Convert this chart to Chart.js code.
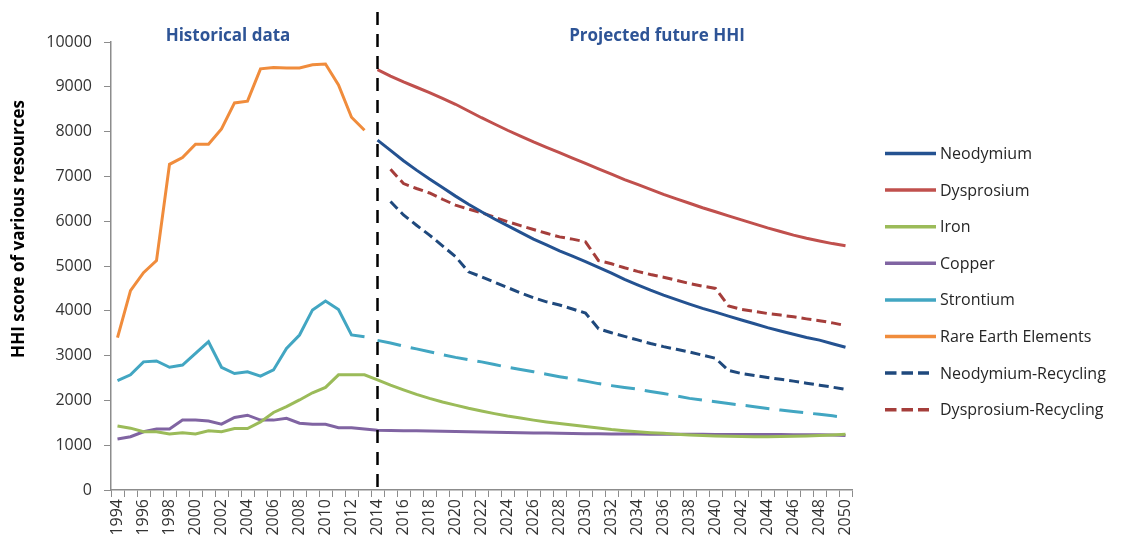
<!DOCTYPE html>
<html>
<head>
<meta charset="utf-8">
<script src="https://cdn.jsdelivr.net/npm/chart.js@4.4.1/dist/chart.umd.min.js"></script>
<style>
  body { margin: 0; background: #fff; }
</style>
</head>
<body>
<canvas id="hhiChart" width="1123" height="544"></canvas>
<script>
const years = ['1994', '1995', '1996', '1997', '1998', '1999', '2000', '2001', '2002', '2003',
  '2004', '2005', '2006', '2007', '2008', '2009', '2010', '2011', '2012', '2013',
  '2014', '2015', '2016', '2017', '2018', '2019', '2020', '2021', '2022', '2023',
  '2024', '2025', '2026', '2027', '2028', '2029', '2030', '2031', '2032', '2033',
  '2034', '2035', '2036', '2037', '2038', '2039', '2040', '2041', '2042', '2043',
  '2044', '2045', '2046', '2047', '2048', '2049', '2050'];

// historical values, 1994 - 2013
const rareEarthHist = [3400, 4450, 4850, 5120, 7270, 7420, 7720, 7720, 8060, 8640, 8680, 9400, 9430, 9420, 9420, 9490, 9510, 9040, 8320, 8030];
const strontiumHist = [2440, 2570, 2860, 2880, 2740, 2790, 3050, 3310, 2740, 2600, 2640, 2540, 2680, 3160, 3460, 4020, 4220, 4030, 3460, 3420];
const ironHist = [1430, 1380, 1300, 1300, 1250, 1280, 1250, 1320, 1300, 1370, 1370, 1520, 1730, 1860, 2010, 2170, 2290, 2570, 2570, 2570];
const copperHist = [1140, 1190, 1300, 1360, 1360, 1560, 1560, 1540, 1470, 1620, 1670, 1560, 1560, 1600, 1490, 1465, 1465, 1390, 1390, 1360];

// projections, 2014 - 2050
const neodymiumProj = [7810, 7580, 7350, 7140, 6940, 6750, 6560, 6380, 6210, 6050, 5900, 5750, 5600, 5470, 5340, 5220, 5100, 4970, 4840, 4700, 4580, 4460, 4350, 4250, 4150, 4055, 3970, 3880, 3795, 3710, 3625, 3550, 3475, 3405, 3345, 3265, 3185];
const dysprosiumProj = [9385, 9240, 9110, 8990, 8870, 8740, 8610, 8460, 8310, 8170, 8030, 7900, 7770, 7650, 7530, 7410, 7290, 7170, 7050, 6930, 6820, 6710, 6600, 6500, 6400, 6300, 6210, 6120, 6030, 5940, 5850, 5770, 5690, 5620, 5560, 5500, 5450];
const ironProj = [2460, 2340, 2235, 2135, 2045, 1965, 1895, 1825, 1765, 1705, 1650, 1605, 1560, 1520, 1485, 1450, 1415, 1385, 1350, 1325, 1300, 1280, 1265, 1245, 1230, 1215, 1205, 1198, 1192, 1190, 1190, 1192, 1198, 1205, 1215, 1230, 1245];
const copperProj = [1335, 1330, 1325, 1320, 1315, 1310, 1305, 1300, 1295, 1290, 1285, 1280, 1275, 1270, 1265, 1262, 1258, 1255, 1252, 1250, 1248, 1246, 1245, 1244, 1243, 1242, 1241, 1240, 1240, 1239, 1238, 1237, 1236, 1235, 1233, 1228, 1215];
const strontiumProj = [3340, 3280, 3210, 3150, 3085, 3020, 2960, 2910, 2860, 2800, 2740, 2690, 2640, 2585, 2530, 2480, 2430, 2375, 2330, 2290, 2250, 2200, 2155, 2100, 2045, 2005, 1970, 1930, 1895, 1860, 1820, 1785, 1750, 1720, 1690, 1655, 1620];

// recycling scenarios, 2015 - 2050
const neodymiumRecycling = [6440, 6140, 5910, 5690, 5450, 5210, 4870, 4760, 4640, 4520, 4400, 4290, 4200, 4130, 4040, 3950, 3600, 3510, 3430, 3350, 3270, 3200, 3140, 3080, 3010, 2940, 2670, 2600, 2555, 2510, 2470, 2430, 2385, 2340, 2295, 2245];
const dysprosiumRecycling = [7160, 6840, 6730, 6630, 6490, 6360, 6270, 6190, 6090, 5990, 5900, 5815, 5730, 5650, 5600, 5540, 5120, 5050, 4960, 4880, 4810, 4750, 4680, 4610, 4550, 4500, 4110, 4030, 3985, 3940, 3905, 3865, 3820, 3780, 3730, 3670];

const splitYear = '2014';
const yTicks = [0, 1000, 2000, 3000, 4000, 5000, 6000, 7000, 8000, 9000, 10000];

const fontFamily = "'Open Sans', sans-serif";

// put a partial series at its start year, nulls elsewhere
function place(values, startYear) {
  const start = years.indexOf(startYear);
  return years.map((y, i) => (i >= start && i - start < values.length ? values[i - start] : null));
}

function line(label, data, color, dash, inLegend) {
  return {
    label: label,
    data: data,
    borderColor: color,
    backgroundColor: color,
    borderWidth: 3,
    borderDash: dash || [],
    pointRadius: 0,
    pointHoverRadius: 0,
    tension: 0,
    spanGaps: false,
    inLegend: inLegend !== false,
  };
}

const datasets = [
  line('Neodymium', place(neodymiumProj, '2014'), '#245291'),
  line('Dysprosium', place(dysprosiumProj, '2014'), '#C0504D'),
  line('Iron', place(ironHist.concat(ironProj), '1994'), '#9BBB59'),
  line('Copper', place(copperHist.concat(copperProj), '1994'), '#8064A2'),
  line('Strontium', place(strontiumHist, '1994'), '#42A6C2'),
  line('Rare Earth Elements', place(rareEarthHist, '1994'), '#F08C3C'),
  line('Neodymium-Recycling', place(neodymiumRecycling, '2015'), '#1F497D', [10, 5]),
  line('Dysprosium-Recycling', place(dysprosiumRecycling, '2015'), '#A53E3B', [10, 5]),
  line('Strontium projection', place(strontiumProj, '2014'), '#42A6C2', [24, 10], false),
];

const overlay = {
  id: 'overlay',
  afterDraw(chart) {
    const c = chart.ctx;
    const x = chart.scales.x;
    const area = chart.chartArea;

    // split between history and projection
    const xs = x.getPixelForValue(years.indexOf(splitYear));
    c.save();
    c.strokeStyle = '#000';
    c.lineWidth = 2.5;
    c.setLineDash([13, 9]);
    c.beginPath();
    c.moveTo(xs, 12);
    c.lineTo(xs, area.bottom);
    c.stroke();
    c.restore();

    // section headings
    c.save();
    c.fillStyle = '#2E5496';
    c.font = 'bold 17px ' + fontFamily;
    c.textAlign = 'center';
    c.textBaseline = 'alphabetic';
    c.fillText('Historical data', x.getPixelForValue(8.5), 40.5);
    c.fillText('Projected future HHI', x.getPixelForValue(41.5), 40.5);
    c.restore();

    // y axis title
    c.save();
    c.translate(24, 229);
    c.rotate(-Math.PI / 2);
    c.fillStyle = '#000';
    c.font = 'bold 17px ' + fontFamily;
    c.textAlign = 'center';
    c.textBaseline = 'alphabetic';
    c.fillText('HHI score of various resources', 0, 0);
    c.restore();

    // legend
    c.save();
    c.font = '16px ' + fontFamily;
    c.textBaseline = 'middle';
    c.textAlign = 'left';
    let row = 0;
    chart.data.datasets.forEach((ds) => {
      if (!ds.inLegend) return;
      const ly = 153.5 + row * 36.6;
      c.strokeStyle = ds.borderColor;
      c.lineWidth = 3.5;
      c.setLineDash(ds.borderDash.length ? [11.5, 5] : []);
      c.beginPath();
      c.moveTo(885, ly);
      c.lineTo(ds.borderDash.length ? 929 : 936, ly);
      c.stroke();
      c.fillStyle = '#262626';
      c.fillText(ds.label, 940, ly + 1);
      row++;
    });
    c.restore();
  },
};

const config = {
  type: 'line',
  data: { labels: years, datasets: datasets },
  options: {
    responsive: false,
    animation: false,
    devicePixelRatio: 1,
    layout: { padding: { top: 42, right: 271, bottom: 0, left: 0 } },
    plugins: {
      legend: { display: false },
      tooltip: { enabled: false },
    },
    scales: {
      x: {
        type: 'category',
        offset: true,
        afterFit(scale) { scale.height = 54; },
        grid: {
          display: true,
          drawOnChartArea: false,
          drawTicks: true,
          tickLength: 7,
          offset: true,
          color: '#8C8C8C',
        },
        border: { display: true, color: '#8C8C8C', width: 1.5 },
        ticks: {
          autoSkip: false,
          minRotation: 90,
          maxRotation: 90,
          padding: 2,
          color: '#333',
          font: { family: fontFamily, size: 16 },
          callback: (val, i) => (i % 2 === 0 ? years[i] : ''),
        },
      },
      y: {
        min: yTicks[0],
        max: yTicks[yTicks.length - 1],
        afterFit(scale) { scale.width = 111; },
        afterBuildTicks(scale) { scale.ticks = yTicks.map((v) => ({ value: v })); },
        grid: {
          display: true,
          drawOnChartArea: false,
          drawTicks: true,
          tickLength: 7,
          color: '#8C8C8C',
        },
        border: { display: true, color: '#8C8C8C', width: 1.5 },
        ticks: {
          padding: 12,
          color: '#333',
          font: { family: fontFamily, size: 16 },
          callback: (v) => String(v),
        },
      },
    },
  },
  plugins: [overlay],
};

const hhiChart = new Chart(document.getElementById('hhiChart'), config);
</script>
</body>
</html>
